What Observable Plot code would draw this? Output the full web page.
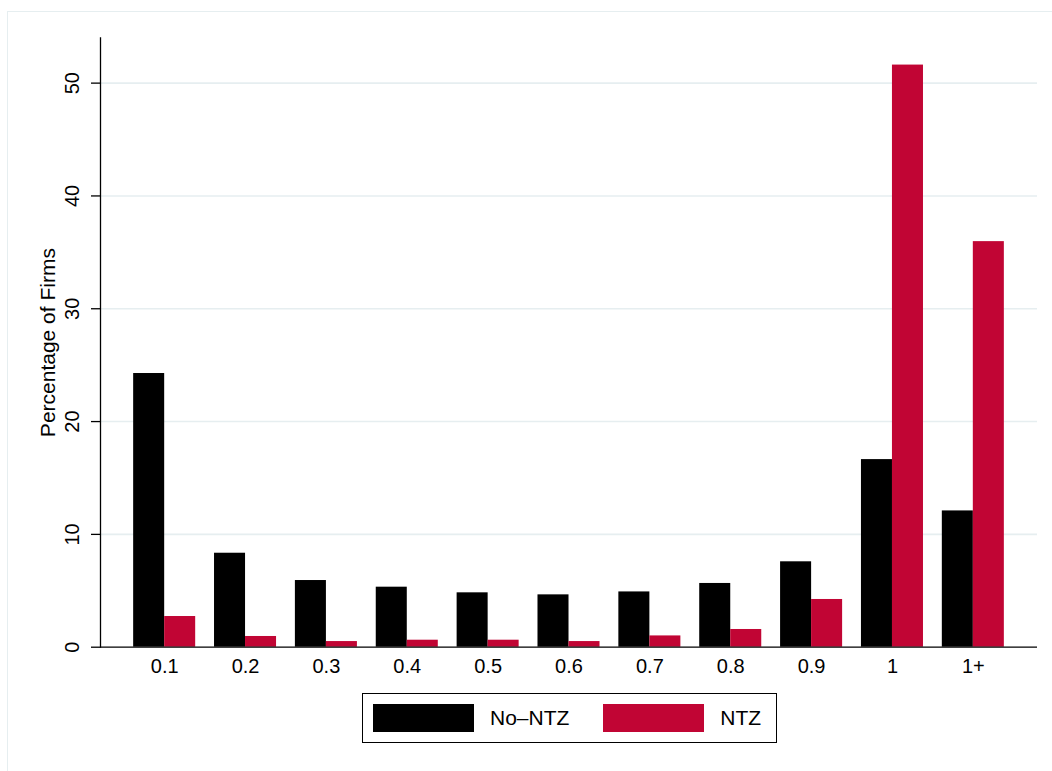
<!DOCTYPE html>
<html>
<head>
<meta charset="utf-8">
<script src="https://cdn.jsdelivr.net/npm/d3@7"></script>
<script src="https://cdn.jsdelivr.net/npm/@observablehq/plot@0.6"></script>
<style>
  html, body { margin: 0; padding: 0; background: #fff; }
  #page { position: relative; width: 1052px; height: 771px; overflow: hidden;
          font-family: "Liberation Sans", Arial, Helvetica, sans-serif; }
  #outer { position: absolute; left: 7px; top: 10.5px; width: 1100px; height: 800px;
           border-left: 1.5px solid #e6eef0; border-top: 1.5px solid #e6eef0; }
  #chart { position: relative; }
  #chart svg { display: block; }
  #legend { position: relative; margin-left: 362px; margin-top: 13px; width: 413px; height: 48px;
            border: 1.3px solid #000; display: flex; align-items: center; font-size: 21px; color: #000; }
  .sw { width: 101px; height: 28px; flex: none; }
  .lab { flex: none; }
</style>
</head>
<body>
<div id="page">
  <div id="outer"></div>
  <div id="chart"></div>
  <div id="legend">
    <div class="sw" style="background:#000;margin-left:10px"></div>
    <div class="lab" style="margin-left:16px">No–NTZ</div>
    <div class="sw" style="background:#c10534;margin-left:34px"></div>
    <div class="lab" style="margin-left:16px">NTZ</div>
  </div>
</div>
<script>
const categories = ["0.1", "0.2", "0.3", "0.4", "0.5", "0.6", "0.7", "0.8", "0.9", "1", "1+"];
const noNTZ = [24.26, 8.33, 5.91, 5.32, 4.82, 4.64, 4.90, 5.65, 7.57, 16.63, 12.08];
const ntz   = [2.72, 0.95, 0.50, 0.62, 0.62, 0.50, 1.00, 1.57, 4.23, 51.60, 35.95];
const yTicks = [0, 10, 20, 30, 40, 50];
const gridTicks = [10, 20, 30, 40, 50];
const yLabel = "Percentage of Firms";

const data = categories.map((c, i) => ({category: c, noNTZ: noNTZ[i], ntz: ntz[i]}));

const chart = Plot.plot({
  width: 1052,
  height: 680,
  marginLeft: 100,
  marginRight: 15,
  marginTop: 37.5,
  marginBottom: 33.3,
  style: {fontFamily: "'Liberation Sans', Arial, Helvetica, sans-serif", fontSize: "20px", color: "#000", background: "transparent", overflow: "visible"},
  x: {domain: categories, paddingInner: 0.233, paddingOuter: 0.41, round: false, axis: null},
  y: {domain: [0, 54], axis: null},
  marks: [
    Plot.ruleY(gridTicks, {stroke: "#e6eef0", strokeWidth: 1.6}),
    Plot.barY(data, {x: "category", y: "noNTZ", fill: "#000000", insetRight: 31}),
    Plot.barY(data, {x: "category", y: "ntz", fill: "#c10534", insetLeft: 31}),
    Plot.ruleY([0], {stroke: "#000", strokeWidth: 1.3}),
    Plot.frame({anchor: "left", stroke: "#000", strokeWidth: 1.3}),
    Plot.axisY({ticks: yTicks, tickSize: 9, tickFormat: () => "", label: null, stroke: "#000", strokeWidth: 1.3}),
    Plot.text(yTicks, {y: d => d, text: d => String(d), frameAnchor: "left", textAnchor: "middle", dx: -28, rotate: -90, fontSize: 20, fill: "#000"}),
    Plot.axisX({tickSize: 0, tickPadding: 12, fontSize: 20, label: null, fill: "#000"}),
    Plot.text([yLabel], {frameAnchor: "left", textAnchor: "middle", dx: -52, rotate: -90, fontSize: 21, fill: "#000"})
  ]
});
document.getElementById("chart").appendChild(chart);
</script>
</body>
</html>
